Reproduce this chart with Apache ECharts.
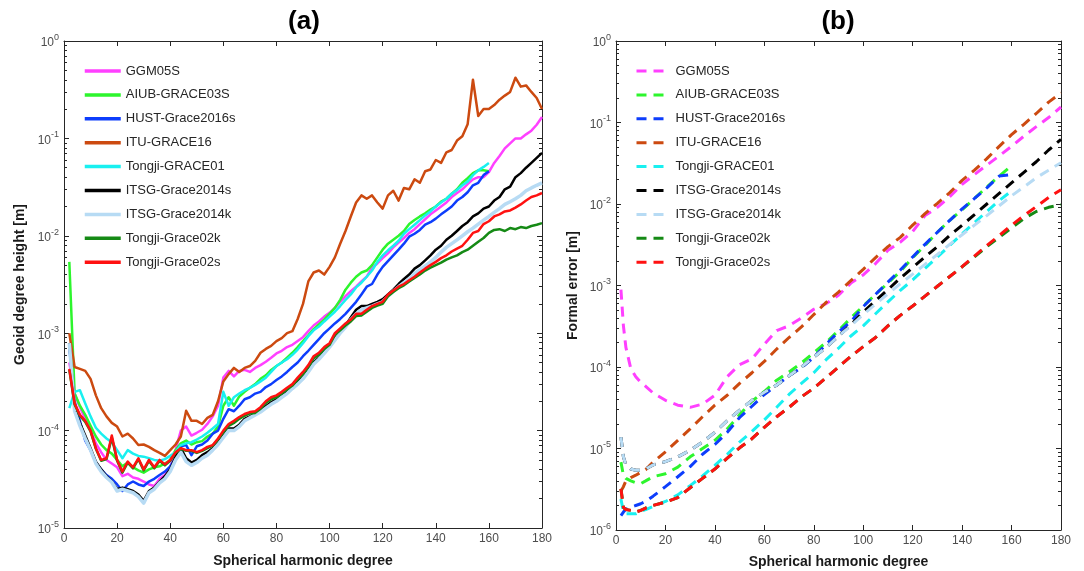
<!DOCTYPE html>
<html><head><meta charset="utf-8">
<script src="https://cdn.jsdelivr.net/npm/echarts@6/dist/echarts.min.js"></script>
<style>html,body{margin:0;padding:0;background:#fff}#c{width:1084px;height:571px}</style>
</head><body><div id="c"></div>
<script>
const NAMES = ['GGM05S','AIUB-GRACE03S','HUST-Grace2016s','ITU-GRACE16','Tongji-GRACE01','ITSG-Grace2014s','ITSG-Grace2014k','Tongji-Grace02k','Tongji-Grace02s'];
const COLORS = ['#ff40ff','#2df52d','#0d3dfc','#cc4a10','#19f0f0','#000000','#b7dbf4','#158a15','#ff1111'];
const TITLES = ['(a)','(b)'];
const X_NAME = 'Spherical harmonic degree';
const Y_NAMES = ['Geoid degree height [m]','Formal error [m]'];

// Panel (a): geoid degree height, degrees 2..180 step 2
const DEG_A = [2,4,6,8,10,12,14,16,18,20,22,24,26,28,30,32,34,36,38,40,42,44,46,48,50,52,54,56,58,60,62,64,66,68,70,72,74,76,78,80,82,84,86,88,90,92,94,96,98,100,102,104,106,108,110,112,114,116,118,120,122,124,126,128,130,132,134,136,138,140,142,144,146,148,150,152,154,156,158,160,162,164,166,168,170,172,174,176,178,180];
const GGM05S_A = [5.0e-4,2.4e-4,1.74e-4,1.32e-4,1.0e-4,7.4e-5,6.0e-5,5.0e-5,4.6e-5,4.2e-5,
3.4e-5,3.6e-5,3.3e-5,3.2e-5,3.0e-5,2.8e-5,2.7e-5,3.2e-5,3.5e-5,4.2e-5,
6.3e-5,1.0e-4,1.1e-4,8.9e-5,9.5e-5,1.02e-4,1.17e-4,1.4e-4,1.8e-4,3.5e-4,
4.1e-4,3.6e-4,4.1e-4,4.2e-4,4.0e-4,4.4e-4,4.7e-4,5.1e-4,5.6e-4,6.2e-4,
6.6e-4,7.2e-4,7.6e-4,8.3e-4,9.1e-4,1.05e-3,1.2e-3,1.32e-3,1.48e-3,1.62e-3,
1.82e-3,2.1e-3,2.4e-3,2.7e-3,3.0e-3,3.4e-3,3.8e-3,4.7e-3,5.2e-3,5.9e-3,
6.6e-3,7.6e-3,8.5e-3,9.5e-3,1.07e-2,1.17e-2,1.32e-2,1.48e-2,1.66e-2,1.82e-2,
2.0e-2,2.2e-2,2.5e-2,2.75e-2,3.0e-2,3.4e-2,3.8e-2,4.0e-2,4.0e-2,4.5e-2,
5.6e-2,6.6e-2,7.9e-2,8.9e-2,1.0e-1,1.0e-1,1.1e-1,1.2e-1,1.38e-1,1.66e-1];
const AIUB_A = [5.4e-3,2.4e-4,1.8e-4,1.45e-4,1.12e-4,8.7e-5,7.2e-5,6.3e-5,5.8e-5,5.0e-5,
4.3e-5,4.7e-5,4.2e-5,3.9e-5,3.7e-5,4.0e-5,4.2e-5,4.3e-5,4.6e-5,5.0e-5,
6.3e-5,7.4e-5,7.9e-5,7.2e-5,7.6e-5,7.8e-5,8.7e-5,9.3e-5,1.1e-4,1.8e-4,
2.2e-4,1.8e-4,2.24e-4,2.5e-4,2.75e-4,3.0e-4,3.4e-4,3.7e-4,4.2e-4,4.6e-4,
5.0e-4,5.6e-4,6.3e-4,7.2e-4,8.3e-4,9.5e-4,1.1e-3,1.23e-3,1.38e-3,1.58e-3,
1.82e-3,2.2e-3,2.8e-3,3.3e-3,3.8e-3,4.2e-3,4.4e-3,5.0e-3,6.0e-3,7.2e-3,
8.3e-3,9.1e-3,1.0e-2,1.12e-2,1.32e-2,1.45e-2,1.58e-2,1.7e-2,1.86e-2,2.0e-2,
2.24e-2,2.4e-2,2.7e-2,3.0e-2,3.5e-2,3.9e-2,4.4e-2,4.7e-2,4.7e-2,4.6e-2];
const HUST_A = [7.1e-4,2.0e-4,1.26e-4,7.9e-5,6.3e-5,4.7e-5,4.0e-5,3.5e-5,3.2e-5,2.8e-5,
2.4e-5,2.8e-5,3.0e-5,2.8e-5,2.7e-5,3.0e-5,3.2e-5,3.5e-5,3.8e-5,4.3e-5,
5.2e-5,6.9e-5,7.1e-5,5.6e-5,6.9e-5,7.2e-5,7.9e-5,9.3e-5,1.0e-4,1.32e-4,
1.66e-4,1.58e-4,1.8e-4,2.1e-4,2.2e-4,2.4e-4,2.5e-4,2.8e-4,3.0e-4,3.3e-4,
3.6e-4,4.0e-4,4.5e-4,5.0e-4,5.8e-4,6.6e-4,7.6e-4,8.7e-4,1.0e-3,1.12e-3,
1.26e-3,1.4e-3,1.58e-3,1.82e-3,2.1e-3,2.5e-3,3.0e-3,3.2e-3,4.0e-3,4.8e-3,
5.5e-3,6.3e-3,7.2e-3,8.3e-3,9.8e-3,1.05e-2,1.15e-2,1.3e-2,1.38e-2,1.5e-2,
1.66e-2,1.82e-2,2.0e-2,2.3e-2,2.5e-2,2.8e-2,3.3e-2,3.5e-2,4.2e-2,4.6e-2];
const ITU_A = [1.0e-3,4.5e-4,4.3e-4,4.1e-4,3.4e-4,2.3e-4,1.7e-4,1.4e-4,1.2e-4,1.1e-4,
8.7e-5,9.3e-5,8.3e-5,7.1e-5,7.2e-5,6.8e-5,6.3e-5,5.9e-5,5.5e-5,6.3e-5,
7.2e-5,8.7e-5,1.6e-4,1.26e-4,1.26e-4,1.17e-4,1.35e-4,1.45e-4,2.0e-4,3.2e-4,
3.8e-4,4.4e-4,4.0e-4,4.4e-4,4.6e-4,5.2e-4,6.3e-4,6.9e-4,7.4e-4,8.3e-4,
8.9e-4,1.0e-3,1.05e-3,1.4e-3,2.0e-3,3.4e-3,4.2e-3,4.4e-3,4.0e-3,4.8e-3,
6.0e-3,8.3e-3,1.12e-2,1.58e-2,2.2e-2,2.6e-2,2.4e-2,2.6e-2,2.2e-2,1.9e-2,
2.6e-2,2.9e-2,2.3e-2,3.1e-2,3.0e-2,3.8e-2,3.5e-2,4.6e-2,4.8e-2,6.0e-2,
5.6e-2,7.2e-2,7.6e-2,9.5e-2,1.05e-1,1.4e-1,4.0e-1,1.7e-1,2.0e-1,2.0e-1,
2.2e-1,2.5e-1,2.75e-1,3.0e-1,4.2e-1,3.4e-1,3.5e-1,3.0e-1,2.6e-1,2.0e-1];
const TONGJI01_A = [1.7e-4,2.5e-4,2.6e-4,1.9e-4,1.4e-4,1.07e-4,9.3e-5,8.3e-5,7.6e-5,6.3e-5,
5.2e-5,6.3e-5,5.8e-5,5.5e-5,5.4e-5,5.2e-5,5.0e-5,4.9e-5,5.1e-5,5.5e-5,
6.0e-5,7.1e-5,7.4e-5,7.6e-5,8.1e-5,8.7e-5,9.5e-5,1.05e-4,1.17e-4,2.5e-4,
1.8e-4,2.2e-4,2.4e-4,2.6e-4,2.75e-4,2.95e-4,3.2e-4,3.5e-4,4.0e-4,4.6e-4,
5.0e-4,5.4e-4,6.0e-4,6.8e-4,7.9e-4,9.3e-4,1.07e-3,1.17e-3,1.32e-3,1.48e-3,
1.66e-3,1.9e-3,2.2e-3,2.5e-3,2.95e-3,3.3e-3,3.8e-3,4.4e-3,5.4e-3,6.3e-3,
7.1e-3,7.9e-3,8.9e-3,1.05e-2,1.17e-2,1.3e-2,1.45e-2,1.62e-2,1.78e-2,2.0e-2,
2.2e-2,2.4e-2,2.7e-2,2.95e-2,3.3e-2,3.6e-2,4.2e-2,4.7e-2,5.1e-2,5.6e-2];
const ITSG14S_A = [7.9e-4,1.66e-4,1.2e-4,8.9e-5,6.6e-5,4.8e-5,4.0e-5,3.4e-5,3.0e-5,2.5e-5,
2.6e-5,2.5e-5,2.4e-5,2.2e-5,1.9e-5,2.4e-5,2.6e-5,3.0e-5,3.4e-5,4.0e-5,
5.4e-5,6.6e-5,5.2e-5,4.7e-5,5.0e-5,5.6e-5,6.0e-5,6.6e-5,7.6e-5,8.9e-5,
1.05e-4,1.05e-4,1.15e-4,1.32e-4,1.4e-4,1.5e-4,1.62e-4,1.78e-4,1.95e-4,2.1e-4,
2.3e-4,2.5e-4,2.8e-4,3.2e-4,3.5e-4,4.2e-4,5.0e-4,5.6e-4,6.5e-4,7.6e-4,
8.9e-4,1.05e-3,1.2e-3,1.45e-3,1.74e-3,1.9e-3,1.9e-3,2.0e-3,2.1e-3,2.24e-3,
2.5e-3,2.8e-3,3.2e-3,3.6e-3,4.0e-3,4.6e-3,5.0e-3,5.6e-3,6.3e-3,7.2e-3,
7.9e-3,9.1e-3,1.0e-2,1.12e-2,1.26e-2,1.38e-2,1.58e-2,1.7e-2,1.9e-2,2.0e-2,
2.3e-2,2.5e-2,3.0e-2,3.2e-2,4.0e-2,4.4e-2,5.0e-2,5.6e-2,6.3e-2,7.1e-2];
const ITSG14K_A = [7.9e-4,1.58e-4,1.12e-4,8.3e-5,6.3e-5,4.6e-5,3.8e-5,3.3e-5,2.95e-5,2.4e-5,
2.5e-5,2.4e-5,2.3e-5,2.1e-5,1.8e-5,2.3e-5,2.5e-5,2.9e-5,3.2e-5,3.8e-5,
5.0e-5,6.0e-5,4.8e-5,4.4e-5,4.7e-5,5.2e-5,5.6e-5,6.3e-5,7.2e-5,8.5e-5,
1.0e-4,1.0e-4,1.1e-4,1.26e-4,1.35e-4,1.45e-4,1.55e-4,1.7e-4,1.86e-4,2.0e-4,
2.2e-4,2.4e-4,2.7e-4,3.0e-4,3.4e-4,4.0e-4,4.8e-4,5.4e-4,6.2e-4,7.2e-4,
8.5e-4,1.0e-3,1.15e-3,1.38e-3,1.58e-3,1.74e-3,1.82e-3,1.9e-3,2.0e-3,2.1e-3,
2.4e-3,2.7e-3,3.0e-3,3.3e-3,3.6e-3,4.1e-3,4.5e-3,4.9e-3,5.4e-3,6.0e-3,
6.8e-3,7.6e-3,8.3e-3,9.1e-3,1.0e-2,1.1e-2,1.2e-2,1.32e-2,1.45e-2,1.58e-2,
1.74e-2,1.9e-2,2.1e-2,2.24e-2,2.4e-2,2.6e-2,2.9e-2,3.1e-2,3.3e-2,3.5e-2];
const TONGJI02K_A = [4.2e-4,1.85e-4,1.42e-4,1.23e-4,9.8e-5,6.5e-5,4.9e-5,5.1e-5,8.5e-5,4.9e-5,
3.7e-5,4.7e-5,4.1e-5,5.1e-5,3.9e-5,4.9e-5,4.1e-5,4.9e-5,4.4e-5,4.9e-5,
5.9e-5,6.5e-5,6.2e-5,6.2e-5,5.9e-5,6.2e-5,6.6e-5,7.0e-5,8.1e-5,9.6e-5,
1.12e-4,1.2e-4,1.32e-4,1.42e-4,1.5e-4,1.52e-4,1.68e-4,1.92e-4,2.1e-4,2.2e-4,
2.4e-4,2.65e-4,2.9e-4,3.35e-4,3.8e-4,4.5e-4,5.5e-4,6.0e-4,6.9e-4,7.6e-4,
9.6e-4,1.07e-3,1.2e-3,1.32e-3,1.5e-3,1.52e-3,1.66e-3,1.82e-3,1.92e-3,2.0e-3,
2.4e-3,2.65e-3,2.9e-3,3.1e-3,3.4e-3,3.7e-3,4.0e-3,4.4e-3,4.7e-3,5.0e-3,
5.3e-3,5.7e-3,6.0e-3,6.3e-3,6.8e-3,7.2e-3,7.9e-3,8.7e-3,9.5e-3,1.07e-2,
1.15e-2,1.17e-2,1.12e-2,1.2e-2,1.17e-2,1.23e-2,1.2e-2,1.26e-2,1.3e-2,1.35e-2];
const TONGJI02S_A = [4.3e-4,1.9e-4,1.45e-4,1.26e-4,1.0e-4,6.6e-5,5.0e-5,5.2e-5,8.9e-5,5.0e-5,
3.8e-5,4.8e-5,4.2e-5,5.2e-5,4.0e-5,5.0e-5,4.2e-5,5.0e-5,4.5e-5,5.0e-5,
6.0e-5,6.6e-5,6.3e-5,6.3e-5,6.0e-5,6.3e-5,6.8e-5,7.1e-5,8.3e-5,1.0e-4,
1.17e-4,1.26e-4,1.38e-4,1.48e-4,1.55e-4,1.58e-4,1.74e-4,2.0e-4,2.2e-4,2.3e-4,
2.5e-4,2.75e-4,3.0e-4,3.5e-4,4.0e-4,4.7e-4,5.8e-4,6.3e-4,7.2e-4,7.9e-4,
1.0e-3,1.12e-3,1.26e-3,1.38e-3,1.58e-3,1.58e-3,1.74e-3,1.9e-3,2.0e-3,2.1e-3,
2.5e-3,2.75e-3,3.0e-3,3.2e-3,3.5e-3,3.8e-3,4.2e-3,4.6e-3,5.0e-3,5.4e-3,
5.9e-3,6.3e-3,6.9e-3,7.4e-3,7.9e-3,9.1e-3,1.07e-2,1.12e-2,1.32e-2,1.41e-2,
1.58e-2,1.66e-2,1.78e-2,1.82e-2,1.95e-2,2.1e-2,2.3e-2,2.5e-2,2.6e-2,2.75e-2];

// Panel (b): formal error
const DEG_B = [2,3,4,6,8,10,12,15,20,25,30,35,40,45,50,55,60,65,70,75,80,85,90,95,100,105,110,115,120,125,130,135,140,145,150,155,160,165,170,175,180];
const GGM05S_B = [8.9e-4,3.2e-4,1.74e-4,9.5e-5,7.6e-5,6.5e-5,5.8e-5,4.8e-5,3.9e-5,3.4e-5,
3.2e-5,3.5e-5,4.5e-5,7.6e-5,1.07e-4,1.26e-4,1.9e-4,2.8e-4,3.2e-4,4.0e-4,
5.1e-4,6.0e-4,7.6e-4,1.07e-3,1.35e-3,1.86e-3,2.7e-3,3.4e-3,4.6e-3,7.2e-3,
9.1e-3,1.23e-2,1.74e-2,2.3e-2,3.0e-2,3.9e-2,5.1e-2,6.8e-2,8.9e-2,1.15e-1,1.55e-1];
const AIUB_B = [6.8e-6,4.7e-6,4.3e-6,4.0e-6,3.8e-6,3.7e-6,4.0e-6,4.5e-6,4.9e-6,5.9e-6,
7.9e-6,1.0e-5,1.26e-5,1.74e-5,2.6e-5,3.8e-5,5.0e-5,6.9e-5,8.7e-5,1.12e-4,
1.5e-4,2.0e-4,2.8e-4,4.0e-4,5.6e-4,7.8e-4,1.07e-3,1.48e-3,2.2e-3,3.1e-3,
4.5e-3,6.3e-3,8.5e-3,1.17e-2,1.62e-2,2.2e-2,2.95e-2];
const HUST_B = [1.5e-6,1.66e-6,1.8e-6,1.9e-6,2.0e-6,2.1e-6,2.24e-6,2.6e-6,3.4e-6,4.5e-6,
6.0e-6,8.5e-6,1.12e-5,1.58e-5,2.4e-5,3.3e-5,4.6e-5,6.0e-5,7.8e-5,9.8e-5,
1.32e-4,1.9e-4,2.7e-4,3.6e-4,5.5e-4,7.8e-4,1.1e-3,1.55e-3,2.24e-3,3.2e-3,
4.5e-3,6.3e-3,8.7e-3,1.17e-2,1.58e-2,2.2e-2,2.3e-2];
const ITU_B = [3.0e-6,3.4e-6,4.0e-6,4.4e-6,4.7e-6,5.1e-6,5.5e-6,6.8e-6,9.1e-6,1.26e-5,
1.74e-5,2.45e-5,3.4e-5,4.5e-5,6.3e-5,8.5e-5,1.17e-4,1.66e-4,2.3e-4,3.1e-4,
4.4e-4,6.2e-4,8.3e-4,1.15e-3,1.58e-3,2.2e-3,3.0e-3,3.9e-3,5.5e-3,7.6e-3,
1.02e-2,1.38e-2,1.95e-2,2.6e-2,3.6e-2,5.1e-2,7.1e-2,9.5e-2,1.29e-1,1.78e-1,2.3e-1];
const TONGJI01_B = [2.4e-6,1.66e-6,1.58e-6,1.58e-6,1.58e-6,1.7e-6,1.78e-6,1.95e-6,2.24e-6,2.7e-6,
3.5e-6,4.6e-6,6.2e-6,8.5e-6,1.2e-5,1.62e-5,2.24e-5,3.2e-5,4.6e-5,6.3e-5,
8.5e-5,1.23e-4,1.7e-4,2.4e-4,3.2e-4,4.5e-4,6.3e-4,8.7e-4,1.17e-3,1.62e-3,
2.24e-3,3.1e-3,4.3e-3,5.9e-3,8.1e-3,1.1e-2,1.45e-2];
const ITSG14S_B = [1.38e-5,7.9e-6,6.3e-6,5.6e-6,5.4e-6,5.4e-6,5.6e-6,6.3e-6,6.9e-6,7.9e-6,
9.5e-6,1.2e-5,1.58e-5,2.2e-5,2.95e-5,3.9e-5,4.9e-5,6.0e-5,7.8e-5,1.0e-4,
1.32e-4,1.74e-4,2.4e-4,3.3e-4,4.7e-4,6.5e-4,8.9e-4,1.23e-3,1.66e-3,2.24e-3,
3.0e-3,4.1e-3,5.5e-3,7.4e-3,1.0e-2,1.35e-2,1.82e-2,2.45e-2,3.3e-2,4.6e-2,6.2e-2];
const ITSG14K_B = [1.38e-5,7.9e-6,6.3e-6,5.6e-6,5.4e-6,5.4e-6,5.6e-6,6.3e-6,6.9e-6,7.9e-6,
9.5e-6,1.2e-5,1.58e-5,2.2e-5,2.95e-5,3.9e-5,4.9e-5,6.0e-5,7.8e-5,1.0e-4,
1.32e-4,1.74e-4,2.4e-4,3.2e-4,4.4e-4,5.9e-4,7.9e-4,1.05e-3,1.38e-3,1.82e-3,
2.4e-3,3.2e-3,4.2e-3,5.5e-3,7.2e-3,9.5e-3,1.26e-2,1.62e-2,2.1e-2,2.6e-2,3.2e-2];
const TONGJI02K_B = [3.2e-6,1.9e-6,1.78e-6,1.74e-6,1.66e-6,1.74e-6,1.86e-6,2.0e-6,2.2e-6,2.5e-6,
3.3e-6,4.3e-6,5.6e-6,7.6e-6,1.02e-5,1.32e-5,1.82e-5,2.45e-5,3.2e-5,4.3e-5,
5.5e-5,7.4e-5,1.0e-4,1.35e-4,1.78e-4,2.3e-4,3.2e-4,4.3e-4,5.6e-4,7.4e-4,
9.8e-4,1.29e-3,1.7e-3,2.25e-3,3.0e-3,3.9e-3,5.1e-3,6.6e-3,8.1e-3,9.1e-3,9.8e-3];
const TONGJI02S_B = [3.2e-6,1.9e-6,1.78e-6,1.74e-6,1.66e-6,1.74e-6,1.86e-6,2.0e-6,2.2e-6,2.5e-6,
3.3e-6,4.3e-6,5.6e-6,7.6e-6,1.02e-5,1.32e-5,1.82e-5,2.45e-5,3.2e-5,4.3e-5,
5.5e-5,7.4e-5,1.0e-4,1.35e-4,1.78e-4,2.3e-4,3.2e-4,4.3e-4,5.6e-4,7.4e-4,
9.8e-4,1.29e-3,1.7e-3,2.3e-3,3.1e-3,4.1e-3,5.5e-3,7.2e-3,9.3e-3,1.2e-2,1.5e-2];

const SERIES_A = [GGM05S_A, AIUB_A, HUST_A, ITU_A, TONGJI01_A, ITSG14S_A, ITSG14K_A, TONGJI02K_A, TONGJI02S_A];
const SERIES_B = [GGM05S_B, AIUB_B, HUST_B, ITU_B, TONGJI01_B, ITSG14S_B, ITSG14K_B, TONGJI02K_B, TONGJI02S_B];

const FONT = '"Liberation Sans", Arial, Helvetica, sans-serif';
const AXC = '#262626';
const LBL = '#4d4d4d';

function supLabel(v) {
  const e = Math.round(Math.log10(v));
  return '{b|10}{s|' + e + '}';
}
const richLbl = {
  b: { fontSize: 12, fontFamily: FONT, color: LBL, lineHeight: 16, verticalAlign: 'bottom' },
  s: { fontSize: 9, fontFamily: FONT, color: LBL, verticalAlign: 'top' }
};
const nameStyle = { fontFamily: FONT, fontSize: 14, fontWeight: 'bold', color: '#1a1a1a' };

function xAxes(gi, nameGap) {
  const common = { gridIndex: gi, type: 'value', min: 0, max: 180, interval: 20, splitLine: { show: false },
    axisLine: { show: true, onZero: false, lineStyle: { color: AXC, width: 1 } },
    axisTick: { show: true, inside: true, length: 5, lineStyle: { color: AXC } } };
  return [
    Object.assign({}, common, { position: 'bottom', name: X_NAME, nameLocation: 'middle', nameGap: nameGap, nameTextStyle: nameStyle,
      axisLabel: { show: true, margin: 5, color: LBL, fontSize: 12, fontFamily: FONT } }),
    Object.assign({}, common, { position: 'top', axisLabel: { show: false } })
  ];
}
function yAxes(gi, min, name, nameGap) {
  const common = { gridIndex: gi, type: 'log', logBase: 10, min: min, max: 1, splitLine: { show: false }, minorSplitLine: { show: false },
    axisLine: { show: true, onZero: false, lineStyle: { color: AXC, width: 1 } },
    axisTick: { show: true, inside: true, length: 5, lineStyle: { color: AXC } },
    minorTick: { show: true, splitNumber: 9, length: 3, lineStyle: { color: AXC } } };
  return [
    Object.assign({}, common, { position: 'left', name: name, nameLocation: 'middle', nameGap: nameGap, nameRotate: 90, nameTextStyle: nameStyle,
      axisLabel: { show: true, margin: 5, formatter: supLabel, rich: richLbl, color: LBL } }),
    Object.assign({}, common, { position: 'right', axisLabel: { show: false } })
  ];
}

const series = [];
NAMES.forEach(function (n, i) {
  series.push({ name: n, type: 'line', xAxisIndex: 0, yAxisIndex: 0, symbol: 'none', showSymbol: false, silent: true,
    data: SERIES_A[i].map(function (v, k) { return [DEG_A[k], v]; }),
    lineStyle: { color: COLORS[i], width: i === 6 ? 3.5 : 2.5, join: 'round' }, itemStyle: { color: COLORS[i] } });
});
NAMES.forEach(function (n, i) {
  series.push({ name: 'b:' + n, type: 'line', xAxisIndex: 2, yAxisIndex: 2, symbol: 'none', showSymbol: false, silent: true,
    data: SERIES_B[i].map(function (v, k) { return [DEG_B[k], v]; }),
    lineStyle: { color: COLORS[i], width: 3, type: [10, 7], cap: 'butt' }, itemStyle: { color: COLORS[i] } });
});

const legendText = { fontFamily: FONT, fontSize: 13, color: '#262626', lineHeight: 14 };
const option = {
  animation: false,
  backgroundColor: '#ffffff',
  title: [
    { text: TITLES[0], left: 304, top: 9, padding: 0, textAlign: 'center', textStyle: { fontFamily: FONT, fontSize: 26, fontWeight: 'bold', color: '#000' } },
    { text: TITLES[1], left: 838, top: 9, padding: 0, textAlign: 'center', textStyle: { fontFamily: FONT, fontSize: 26, fontWeight: 'bold', color: '#000' } }
  ],
  grid: [
    { left: 64, top: 41, width: 478, height: 487, outerBoundsMode: 'none' },
    { left: 616, top: 41, width: 445, height: 489, outerBoundsMode: 'none' }
  ],
  xAxis: xAxes(0, 26).concat(xAxes(1, 25)),
  yAxis: yAxes(0, 1e-5, Y_NAMES[0], 37).concat(yAxes(1, 1e-6, Y_NAMES[1], 36)),
  legend: [
    { data: NAMES, orient: 'vertical', left: 83, top: 64, itemWidth: 36, itemHeight: 14, itemGap: 9.9, padding: 0,
      selectedMode: false, textStyle: legendText, lineStyle: { width: 3.5 }, itemStyle: { opacity: 0 } },
    { data: NAMES.map(function (n) { return 'b:' + n; }), formatter: function (n) { return n.slice(2); },
      orient: 'vertical', left: 635, top: 64, itemWidth: 34, itemHeight: 14, itemGap: 9.9, padding: 0,
      selectedMode: false, textStyle: legendText, lineStyle: { width: 3 }, itemStyle: { opacity: 0 } }
  ],
  series: series
};
const chart = echarts.init(document.getElementById('c'), null, { renderer: 'canvas' });
chart.setOption(option);
</script>
</body></html>
